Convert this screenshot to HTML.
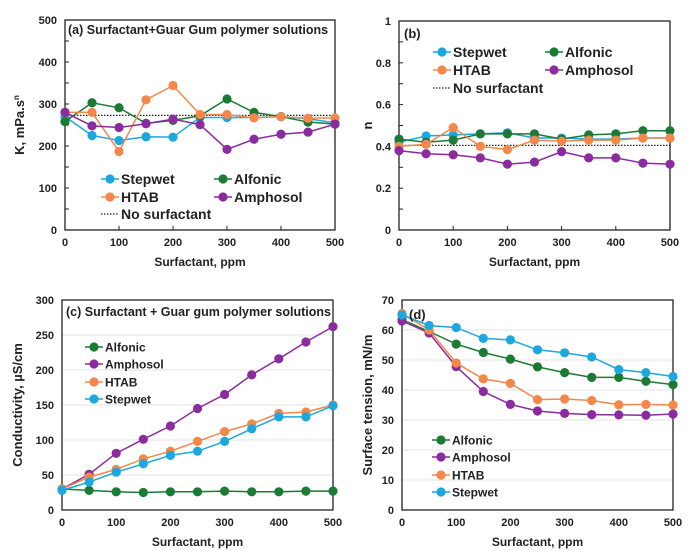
<!DOCTYPE html>
<html><head><meta charset="utf-8"><style>
html,body{margin:0;padding:0;background:#fff;width:700px;height:560px;overflow:hidden}
svg{display:block;font-family:"Liberation Sans",Arial,sans-serif;font-weight:bold}
</style></head><body>
<svg id="s" width="700" height="560" xmlns="http://www.w3.org/2000/svg"></svg>
<script>
const S=document.getElementById('s');let h='';
const C={st:'#1ca8de',al:'#1b7a33',ht:'#f4884a',am:'#8a2c9e'};
const X=[0,50,100,150,200,250,300,350,400,450,500];
function panel(p){
 const{x0,x1,y0,y1,ymax,ystep,grid,minor,series,none}=p;
 const fx=v=>x0+(x1-x0)*v/500, fy=v=>y1-(y1-y0)*v/ymax;
 if(grid){for(let v=ystep;v<=ymax;v+=ystep)h+=`<line x1="${x0}" x2="${x1}" y1="${fy(v)}" y2="${fy(v)}" stroke="#e3e3e3" stroke-width="1"/>`;}
 h+=`<rect x="${x0}" y="${y0}" width="${x1-x0}" height="${y1-y0}" fill="none" stroke="#222" stroke-width="1.3"/>`;
 for(let v=0;v<=ymax+1e-9;v+=ystep){h+=`<text x="${x0-8}" y="${fy(v)+4}" font-size="11" text-anchor="end" fill="#222">${+v.toFixed(1)}</text>`;
  if(minor){h+=`<line x1="${x0}" x2="${x0+4}" y1="${fy(v)}" y2="${fy(v)}" stroke="#222"/>`;const m=v+ystep/2;if(m<ymax)h+=`<line x1="${x0}" x2="${x0+4}" y1="${fy(m)}" y2="${fy(m)}" stroke="#222"/>`;}}
 for(let v=0;v<=500;v+=100){h+=`<text x="${fx(v)}" y="${y1+16}" font-size="11" text-anchor="middle" fill="#222">${v}</text>`;if(minor)h+=`<line x1="${fx(v)}" x2="${fx(v)}" y1="${y1}" y2="${y1-4}" stroke="#222"/>`;}
 if(none!==undefined)h+=`<line x1="${x0}" x2="${x1}" y1="${fy(none)}" y2="${fy(none)}" stroke="#222" stroke-width="1.2" stroke-dasharray="1.5,1.5"/>`;
 for(const[k,d]of series){const pts=d.map((v,i)=>fx(X[i])+','+fy(v)).join(' ');
  h+=`<polyline points="${pts}" fill="none" stroke="${C[k]}" stroke-width="1.5"/>`;
  d.forEach((v,i)=>h+=`<circle cx="${fx(X[i])}" cy="${fy(v)}" r="4.6" fill="${C[k]}"/>`);}
 h+=`<text x="${(x0+x1)/2}" y="${p.xl}" font-size="12" text-anchor="middle" fill="#222">Surfactant, ppm</text>`;
 h+=`<text transform="translate(${p.yx},${(y0+y1)/2}) rotate(-90)" font-size="13" text-anchor="middle" fill="#222">${p.yl}</text>`;
}
function leg(x,y,k,t,fs){if(k=='none')h+=`<line x1="${x}" x2="${x+18}" y1="${y}" y2="${y}" stroke="#222" stroke-dasharray="1.5,1.5" stroke-width="1.2"/>`;
 else h+=`<line x1="${x}" x2="${x+18}" y1="${y}" y2="${y}" stroke="${C[k]}" stroke-width="1.5"/><circle cx="${x+9}" cy="${y}" r="4.6" fill="${C[k]}"/>`;
 h+=`<text x="${x+20}" y="${y+fs*0.37}" font-size="${fs}" fill="#222">${t}</text>`;}
panel({x0:65,x1:335,y0:20,y1:230,ymax:500,ystep:100,minor:1,xl:266,yx:24,yl:'K, mPa.s<tspan font-size="8" dy="-5">n</tspan>',none:273,series:[
['st',[270,225,213,222,221,268,268,268,270,265,255]],
['al',[258,303,291,254,261,272,312,280,270,257,252]],
['ht',[280,280,187,310,344,275,275,267,270,266,267]],
['am',[280,248,244,253,264,251,192,216,228,233,252]]]});
h+=`<text x="68" y="34" font-size="12.5" fill="#222">(a)  Surfactant+Guar Gum polymer solutions</text>`;
leg(101,179,'st','Stepwet',14);leg(214,179,'al','Alfonic',14);leg(101,197,'ht','HTAB',14);leg(214,197,'am','Amphosol',14);leg(101,214,'none','No surfactant',14);
panel({x0:399,x1:670,y0:21,y1:230,ymax:1,ystep:0.2,minor:1,xl:266,yx:372,yl:'n',none:0.405,series:[
['st',[0.42,0.45,0.455,0.46,0.465,0.44,0.44,0.435,0.435,0.44,0.44]],
['al',[0.435,0.42,0.43,0.46,0.46,0.46,0.435,0.455,0.46,0.475,0.475]],
['ht',[0.40,0.41,0.49,0.40,0.385,0.43,0.425,0.43,0.43,0.44,0.44]],
['am',[0.38,0.365,0.36,0.345,0.315,0.325,0.375,0.345,0.345,0.32,0.315]]]});
h+=`<text x="404" y="38" font-size="13" fill="#222">(b)</text>`;
leg(433,52,'st','Stepwet',14);leg(545,52,'al','Alfonic',14);leg(433,70,'ht','HTAB',14);leg(545,70,'am','Amphosol',14);leg(433,88,'none','No surfactant',14);
panel({x0:62,x1:333,y0:300,y1:510,ymax:300,ystep:50,grid:1,xl:546,yx:22,yl:'Conductivity, µS/cm',series:[
['al',[30,28,26,25,26,26,27,26,26,27,27]],
['am',[30,51,81,101,120,145,165,193,216,240,262]],
['ht',[30,47,58,73,84,98,112,123,138,140,150]],
['st',[28,40,54,66,78,84,98,116,133,133,149]]]});
h+=`<text x="66" y="316" font-size="12.5" fill="#222">(c)  Surfactant + Guar gum polymer solutions</text>`;
leg(85,347,'al','Alfonic',12);leg(85,364,'am','Amphosol',12);leg(85,382,'ht','HTAB',12);leg(85,399,'st','Stepwet',12);
panel({x0:402,x1:673,y0:300,y1:510,ymax:70,ystep:10,grid:1,xl:546,yx:372,yl:'Surface tension, mN/m',series:[
['al',[63.5,59.5,55.3,52.5,50.3,47.7,45.8,44.2,44.2,42.9,41.8]],
['am',[63,59,47.8,39.5,35.2,33,32.2,31.8,31.7,31.6,32]],
['ht',[65.5,60,49,43.7,42.2,36.8,37,36.5,35.1,35.2,35]],
['st',[65,61.5,60.8,57.2,56.7,53.4,52.4,51,46.8,45.8,44.5]]]});
h+=`<text x="409" y="319" font-size="13" fill="#222">(d)</text>`;
leg(432,440,'al','Alfonic',12);leg(432,457,'am','Amphosol',12);leg(432,475,'ht','HTAB',12);leg(432,492,'st','Stepwet',12);
S.innerHTML=h;
</script>
</body></html>
